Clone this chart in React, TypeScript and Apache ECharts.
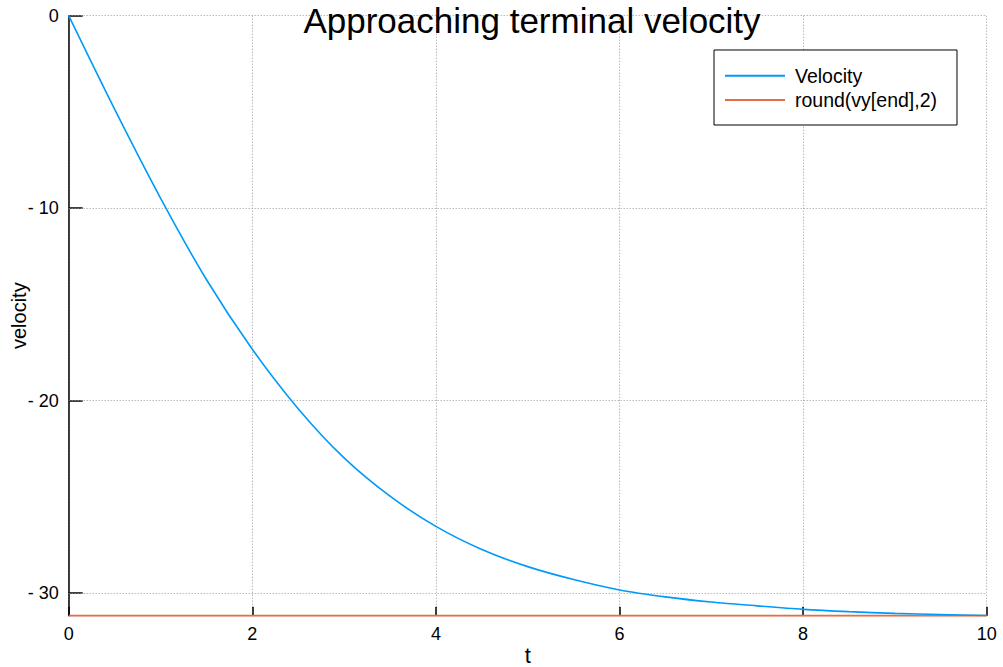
import React, { useEffect, useRef } from "react";
import * as echarts from "echarts";

const timeValues = [0, 0.5, 1, 1.5, 2, 2.5, 3, 3.5, 4, 4.5, 5, 5.5, 6, 6.5, 7, 7.5, 8, 8.5, 9, 9.5, 10];
const velocityValues = [
  0, -4.86, -9.48, -13.71, -17.33, -20.42, -22.98, -24.97, -26.54, -27.74, -28.63,
  -29.3, -29.84, -30.2, -30.47, -30.67, -30.85, -30.97, -31.06, -31.12, -31.17,
];
const terminalValue = -31.18;
const terminalTimes = [0, 10];
const xTicks = [0, 2, 4, 6, 8, 10];
const yTicks = [0, -10, -20, -30];
const seriesNames = ["Velocity", "round(vy[end],2)"];
const titleText = "Approaching terminal velocity";
const xName = "t";
const yName = "velocity";

const FONT = "Liberation Sans, Arial, Helvetica, sans-serif";
const GRID = "#9a9a9a";

export default function App() {
  const ref = useRef<HTMLDivElement>(null);
  useEffect(() => {
    document.body.style.margin = "0";
    if (!ref.current) return;
    const chart = echarts.init(ref.current, undefined, { renderer: "svg" });
    const fmt = (v: number) => (v < 0 ? "- " + Math.abs(v) : String(v));
    chart.setOption({
      animation: false,
      backgroundColor: "#fff",
      textStyle: { fontFamily: FONT },
      title: {
        text: titleText,
        left: 527,
        textAlign: "center",
        top: -2,
        textStyle: { fontSize: 35, fontWeight: "normal", color: "#000", fontFamily: FONT },
      },
      grid: {
        left: 68.7,
        right: 16.3,
        top: 15.7,
        bottom: 51.3,
        containLabel: false,
        outerBoundsMode: "none",
      },
      legend: {
        left: 714,
        top: 50,
        orient: "vertical",
        icon: "rect",
        itemWidth: 60,
        itemHeight: 2,
        itemGap: 4.3,
        padding: [15.7, 20, 15, 11],
        backgroundColor: "#fff",
        borderColor: "#000",
        borderWidth: 1,
        borderRadius: 0,
        textStyle: { fontSize: 19.5, lineHeight: 20, color: "#000", fontFamily: FONT, padding: [0, 0, 0, 5] },
        data: seriesNames,
      },
      xAxis: {
        type: "value",
        min: xTicks[0],
        max: xTicks[xTicks.length - 1],
        interval: 2,
        name: xName,
        nameLocation: "middle",
        nameGap: 29,
        nameMoveOverlap: false,
        nameTextStyle: { fontSize: 22, color: "#000", fontFamily: FONT },
        axisLine: { show: true, onZero: false, lineStyle: { color: "#000", width: 1 } },
        axisTick: { show: true, inside: true, length: 9, lineStyle: { color: "#000", width: 1.5 } },
        axisLabel: { margin: 9, fontSize: 18, color: "#000", fontFamily: FONT },
        splitLine: { show: true, lineStyle: { color: GRID, type: [1, 2], width: 1 } },
      },
      yAxis: {
        type: "value",
        min: terminalValue,
        max: 0,
        name: yName,
        nameLocation: "middle",
        nameGap: 40,
        nameMoveOverlap: false,
        nameTextStyle: { fontSize: 20, color: "#000", fontFamily: FONT },
        axisLine: { show: true, onZero: false, lineStyle: { color: "#000", width: 1.5 } },
        axisTick: { show: true, inside: true, length: 14, customValues: yTicks, lineStyle: { color: "#000", width: 1.5 } },
        axisLabel: { margin: 10, fontSize: 18, color: "#000", fontFamily: FONT, customValues: yTicks, formatter: fmt },
        splitLine: { show: false },
      },
      series: [
        {
          name: seriesNames[0],
          type: "line",
          data: timeValues.map((t, i) => [t, velocityValues[i]]),
          symbol: "none",
          smooth: 0.3,
          lineStyle: { color: "#009AFA", width: 1.6 },
          itemStyle: { color: "#009AFA" },
          markLine: {
            silent: true,
            symbol: "none",
            label: { show: false },
            lineStyle: { color: GRID, type: [1, 2], width: 1 },
            data: yTicks.map((v) => ({ yAxis: v })),
            z: 1,
          },
          z: 3,
        },
        {
          name: seriesNames[1],
          type: "line",
          data: terminalTimes.map((t) => [t, terminalValue]),
          symbol: "none",
          lineStyle: { color: "#E26F46", width: 2 },
          itemStyle: { color: "#E26F46" },
          z: 2,
        },
      ],
    });
    return () => chart.dispose();
  }, []);
  return <div ref={ref} style={{ width: 1003, height: 667 }} />;
}
